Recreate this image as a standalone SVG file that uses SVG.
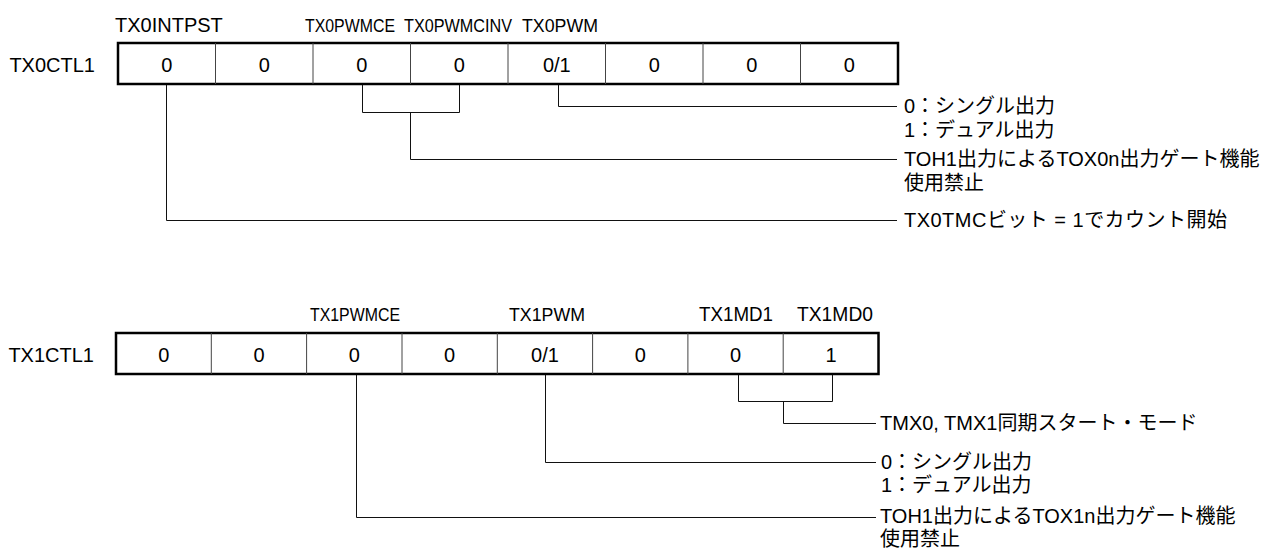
<svg xmlns="http://www.w3.org/2000/svg" width="1281" height="554" viewBox="0 0 1281 554">
<style>
text{font-family:"Liberation Sans","Noto Sans CJK JP",sans-serif;font-size:20px;fill:#000}
.c{text-anchor:middle}
.e{text-anchor:end}
.n{font-size:17.5px}
.box{fill:#fff;stroke:#000;stroke-width:2.5}
.div{stroke:#444;stroke-width:1}
.con{fill:none;stroke:#111;stroke-width:1}
</style>
<rect width="1281" height="554" fill="#fff"/>

<g id="reg-tx0ctl1">
<text class="e" x="95" y="72">TX0CTL1</text>
<rect class="box" x="118" y="43" width="780" height="41"/>
<path class="div" d="M215.5 43V84M313 43V84M410.5 43V84M508 43V84M605.5 43V84M703 43V84M800.5 43V84"/>
<text class="c" x="166.8" y="72">0</text>
<text class="c" x="264.3" y="72">0</text>
<text class="c" x="361.8" y="72">0</text>
<text class="c" x="459.3" y="72">0</text>
<text class="c" x="556.8" y="72">0/1</text>
<text class="c" x="654.3" y="72">0</text>
<text class="c" x="751.8" y="72">0</text>
<text class="c" x="849.3" y="72">0</text>
</g>

<g id="bits-tx0">
<text x="115" y="32">TX0INTPST</text>
<text class="n" x="305" y="32" textLength="90" lengthAdjust="spacingAndGlyphs">TX0PWMCE</text>
<text class="n" x="404" y="32" textLength="108" lengthAdjust="spacingAndGlyphs">TX0PWMCINV</text>
<text class="n" x="522" y="32" textLength="76" lengthAdjust="spacingAndGlyphs">TX0PWM</text>
</g>

<g id="desc-tx0pwm">
<text x="904" y="113">0：シングル出力</text>
<text x="904" y="137">1：デュアル出力</text>
</g>
<g id="desc-tx0pwmce">
<text x="904" y="166">TOH1出力によるTOX0n出力ゲート機能</text>
<text x="904" y="190">使用禁止</text>
</g>
<g id="desc-tx0intpst">
<text x="904" y="227" textLength="323" lengthAdjust="spacing">TX0TMCビット = 1でカウント開始</text>
</g>

<g id="reg-tx1ctl1">
<text class="e" x="94" y="362">TX1CTL1</text>
<rect class="box" x="116" y="333" width="762.5" height="41"/>
<path class="div" d="M211.3 333V374M306.6 333V374M402 333V374M497.3 333V374M592.6 333V374M687.9 333V374M783.2 333V374"/>
<text class="c" x="163.7" y="362">0</text>
<text class="c" x="259" y="362">0</text>
<text class="c" x="354.3" y="362">0</text>
<text class="c" x="449.6" y="362">0</text>
<text class="c" x="545" y="362">0/1</text>
<text class="c" x="640.3" y="362">0</text>
<text class="c" x="735.6" y="362">0</text>
<text class="c" x="831" y="362">1</text>
</g>

<g id="bits-tx1">
<text class="n" x="310" y="321" textLength="90" lengthAdjust="spacingAndGlyphs">TX1PWMCE</text>
<text class="n" x="509" y="321" textLength="76" lengthAdjust="spacingAndGlyphs">TX1PWM</text>
<text x="699" y="321" textLength="74" lengthAdjust="spacingAndGlyphs">TX1MD1</text>
<text x="797" y="321" textLength="76" lengthAdjust="spacingAndGlyphs">TX1MD0</text>
</g>

<g id="desc-tx1md">
<text x="880" y="430">TMX0, TMX1同期スタート・モード</text>
</g>
<g id="desc-tx1pwm">
<text x="881" y="469">0：シングル出力</text>
<text x="881" y="492">1：デュアル出力</text>
</g>
<g id="desc-tx1pwmce">
<text x="880" y="523">TOH1出力によるTOX1n出力ゲート機能</text>
<text x="880" y="546">使用禁止</text>
</g>

<g id="connectors">
<path class="con" d="M166.5 85V220.5H897"/>
<path class="con" d="M362.5 85V112.5H459.5V85"/>
<path class="con" d="M410.5 112.5V159.5H897"/>
<path class="con" d="M558.5 85V106.5H897"/>
<path class="con" d="M356.5 375V517.5H876"/>
<path class="con" d="M545.5 375V462.5H876"/>
<path class="con" d="M738.5 375V401.5H832.5V375"/>
<path class="con" d="M783.5 401.5V423.5H876"/>
</g>
</svg>
